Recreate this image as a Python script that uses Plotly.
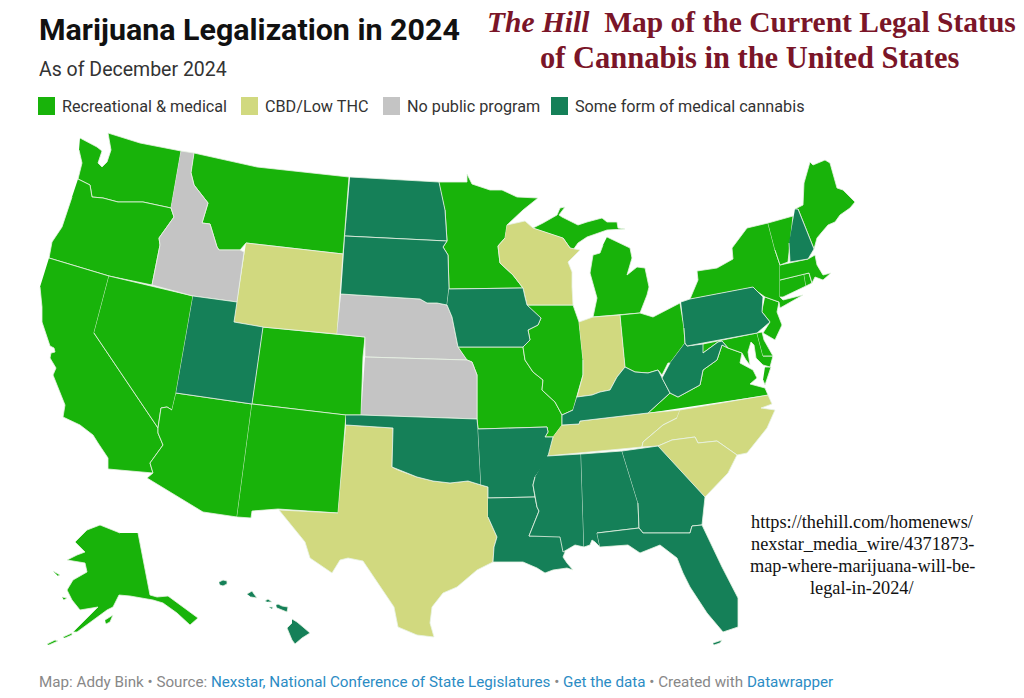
import plotly.graph_objects as go

# state outlines, in map units (None starts a new island)
WA = [(80,138),(90,143),(97,147),(102,151),(98,163),(102,167),(107,162),(111,150),(108,133),(140,143),(181,151),(171,208),(143,202),(118,202),(103,198),(92,197),(90,185),(78,179),(82,163),(79,150)]
OR = [(78,179),(90,185),(92,197),(103,198),(118,202),(143,202),(171,208),(174,217),(159,238),(160,245),(152,285),(109,276),(49,258),(52,242),(62,227),(72,197)]
CA = [(49,258),(109,276),(94,333),(158,428),(158,433),(163,445),(150,463),(153,473),(108,469),(108,458),(98,443),(93,435),(80,425),(63,417),(65,405),(55,380),(53,375),(56,368),(50,358),(51,353),(55,352),(54,348),(50,346),(42,322),(42,307),(40,287)]
NV = [(109,276),(193,296),(176,393),(172,410),(167,407),(161,408),(158,428),(94,333)]
ID = [(181,151),(194,153),(191,173),(194,185),(208,203),(202,223),(210,224),(217,247),(219,250),(240,250),(244,252),(237,302),(193,296),(152,285),(160,245),(159,238),(174,217),(171,208)]
MT = [(194,153),(257,167),(349,177),(343,254),(246,243),(242,247),(240,250),(219,250),(217,247),(210,224),(202,223),(208,203),(194,185),(191,173)]
WY = [(246,243),(343,254),(337,334),(262,327),(234,322)]
UT = [(193,296),(237,302),(234,322),(263,327),(252,404),(176,393)]
CO = [(263,327),(337,334),(365,337),(363,357),(361,415),(345,415),(252,404)]
AZ = [(176,393),(252,404),(237,517),(203,512),(147,478),(153,473),(150,463),(163,445),(158,433),(158,428),(161,408),(167,407),(172,410)]
NM = [(252,404),(346,415),(338,513),(279,509),(278,509),(252,511),(251,518),(237,517)]
ND = [(350,177),(439,182),(445,210),(447,241),(345,236)]
SD = [(345,236),(447,241),(443,247),(448,255),(449,288),(447,305),(437,303),(427,303),(420,299),(341,294)]
NE = [(341,294),(420,299),(427,303),(437,303),(447,305),(452,317),(458,347),(467,360),(365,357),(365,337),(337,334)]
KS = [(365,357),(467,360),(472,362),(477,375),(477,419),(361,415)]
OK = [(346,415),(361,415),(477,419),(478,429),(481,485),(468,481),(450,483),(433,481),(417,477),(398,470),(392,467),(393,428),(346,425)]
TX = [(346,425),(393,428),(392,467),(398,470),(417,477),(433,481),(450,483),(468,481),(481,485),(488,487),(488,517),(497,537),(494,547),(493,562),(477,570),(457,587),(443,593),(432,607),(430,623),(434,637),(417,635),(398,627),(394,607),(378,583),(363,561),(348,558),(340,560),(332,573),(310,558),(305,542),(279,510),(338,513)]
MN = [(439,182),(467,182),(467,174),(472,184),(490,190),(502,190),(517,197),(538,198),(523,210),(507,225),(505,238),(498,246),(500,263),(513,275),(523,288),(449,289),(448,255),(443,247),(447,241),(445,210)]
IA = [(449,289),(523,288),(525,297),(527,305),(541,318),(538,325),(528,330),(530,340),(523,347),(458,347),(452,317),(447,305)]
MO = [(458,347),(523,347),(525,360),(533,372),(543,380),(542,390),(555,402),(562,415),(562,425),(553,437),(545,437),(548,432),(547,427),(478,429),(477,419),(477,375),(472,362),(467,360)]
AR = [(478,429),(547,427),(548,432),(545,437),(553,437),(547,460),(535,477),(533,485),(535,497),(488,498),(488,487),(481,485)]
LA = [(488,498),(535,497),(537,507),(539,511),(529,536),(561,535),(565,552),(563,557),(567,563),(573,570),(567,568),(553,570),(545,573),(537,568),(523,562),(503,562),(493,562),(494,547),(497,537),(488,517)]
WI = [(507,225),(525,221),(533,228),(563,238),(570,248),(580,250),(568,262),(572,272),(572,287),(573,305),(527,305),(525,297),(523,288),(513,275),(500,263),(498,246),(505,238)]
IL = [(527,305),(573,305),(579,322),(583,360),(583,375),(577,397),(573,410),(562,415),(555,402),(542,390),(543,380),(533,372),(525,360),(523,347),(530,340),(528,330),(538,325),(541,318)]
IN = [(579,322),(593,317),(620,315),(625,367),(617,377),(610,390),(600,392),(592,395),(577,397),(583,375),(583,360)]
MI = [(533,228),(543,223),(557,215),(560,208),(565,207),(559,215),(562,217),(578,225),(587,222),(602,218),(607,222),(617,222),(618,228),(625,229),(607,230),(587,237),(578,243),(573,250),(570,248),(563,238),None,(607,237),(630,248),(632,258),(627,275),(637,267),(645,268),(649,287),(647,295),(640,313),(620,315),(593,317),(597,298),(590,273),(593,255),(600,253),(603,245)]
OH = [(620,315),(640,313),(653,317),(680,303),(684,328),(685,343),(670,363),(668,363),(662,375),(658,370),(648,373),(635,372),(625,367)]
KY = [(577,397),(592,395),(600,392),(610,390),(617,377),(625,367),(635,372),(648,373),(658,370),(662,378),(670,393),(648,413),(580,421),(579,424),(562,425),(562,415),(573,410)]
TN = [(562,425),(579,424),(580,421),(648,413),(680,410),(677,418),(663,425),(643,442),(642,447),(547,456),(553,437)]
MS = [(547,456),(581,454),(584,547),(575,545),(563,552),(560,537),(529,536),(539,511),(537,507),(535,497),(533,485),(535,477)]
AL = [(581,454),(622,451),(638,503),(639,528),(597,533),(600,547),(595,542),(592,540),(590,545),(584,547)]
GA = [(622,451),(658,446),(705,497),(702,525),(692,526),(690,533),(643,533),(639,528),(638,503)]
FL = [(597,533),(639,528),(643,533),(690,533),(692,526),(702,525),(722,567),(738,598),(738,627),(723,632),(707,613),(690,587),(683,573),(677,558),(660,545),(640,553),(628,545),(600,547),None,(713,643),(722,640),(720,643),(714,645)]
SC = [(658,446),(672,440),(695,437),(698,443),(717,441),(737,455),(728,473),(705,497)]
NC = [(680,410),(768,395),(772,404),(761,408),(775,410),(767,428),(747,453),(737,455),(717,441),(698,443),(695,437),(672,440),(658,446),(642,447),(643,442),(663,425),(677,418)]
VA = [(648,413),(670,393),(678,397),(700,385),(703,370),(717,360),(722,345),(728,348),(742,353),(740,363),(753,370),(757,378),(750,384),(765,388),(768,395),None,(765,367),(771,367),(765,385),(763,380)]
WV = [(685,343),(687,346),(703,344),(703,353),(718,342),(722,341),(728,348),(722,345),(717,360),(703,370),(700,385),(678,397),(670,393),(662,378),(670,363)]
MD = [(703,344),(757,333),(763,356),(773,356),(770,367),(763,365),(756,358),(754,345),(751,342),(748,352),(750,365),(746,360),(742,353),(728,348),(722,341),(718,342),(703,353)]
DE = [(757,333),(762,332),(764,340),(773,356),(763,356)]
PA = [(681,302),(690,299),(753,287),(758,292),(763,297),(762,312),(770,322),(757,333),(687,346),(685,343),(684,328)]
NJ = [(765,297),(779,302),(777,312),(782,325),(775,340),(763,333),(770,322),(762,312)]
NY = [(690,299),(698,280),(697,271),(717,268),(733,259),(732,248),(747,228),(768,223),(775,250),(780,265),(780,297),(783,300),(803,295),(780,308),(779,302),(765,297),(758,292),(753,287)]
CT = [(780,280),(804,274),(806,286),(783,297),(780,297)]
RI = [(804,274),(809,273),(812,283),(806,286)]
MA = [(780,265),(808,259),(815,255),(817,265),(823,275),(831,273),(823,280),(815,277),(812,283),(809,273),(780,280)]
VT = [(768,223),(793,216),(788,262),(780,265),(775,250)]
NH = [(795,209),(798,209),(814,249),(808,259),(790,262),(789,243)]
ME = [(795,209),(803,205),(804,183),(810,162),(813,165),(825,160),(830,163),(837,188),(843,190),(855,202),(850,208),(840,215),(835,222),(828,225),(822,232),(817,238),(814,249),(798,209)]
AK = [(138,533),(150,595),(157,597),(168,596),(198,618),(190,625),(177,613),(163,603),(153,600),(130,596),(119,595),(113,607),(107,610),(93,620),(77,632),(73,632),(90,615),(98,607),(80,610),(72,600),(67,590),(73,580),(87,572),(85,563),(67,560),(77,555),(85,552),(75,542),(87,530),(100,525),(120,533),None,(105,620),(113,615),(110,622),(106,624),None,(53,571),(60,575),(58,576),None,(62,597),(67,598),(64,600),None,(47,644),(55,640),(58,641),(49,645),None,(63,637),(72,633),(72,635),(65,638)]
HI = [(292,619),(297,622),(303,627),(310,633),(302,638),(295,644),(292,640),(287,628),(292,623),None,(276,605),(278,604),(282,606),(288,607),(287,612),(282,610),(277,608),None,(247,594),(252,591),(254,594),(257,598),(251,597),None,(219,582),(223,580),(227,581),(227,584),(223,586),(220,585),None,(265,601),(268,599),(272,602),(268,602),None,(269,607),(273,607),(272,609)]

# which group each state falls in
recreational = [WA, OR, CA, NV, MT, CO, AZ, NM, MN, MO, IL, MI, OH, VA, MD, DE, NJ, NY, CT, RI, MA, VT, ME, AK]
low_thc = [WY, TX, WI, IN, TN, NC, SC]
no_program = [ID, NE, KS]
medical = [UT, ND, SD, OK, IA, AR, LA, KY, MS, AL, GA, FL, WV, PA, NH, HI]

groups = [recreational, low_thc, no_program, medical]
names = ["Recreational & medical", "CBD/Low THC", "No public program", "Some form of medical cannabis"]
colors = ["#18b30a", "#d1d97f", "#c4c4c4", "#158058"]
url_lines = ["https://thehill.com/homenews/", "nexstar_media_wire/4371873-", "map-where-marijuana-will-be-", "legal-in-2024/"]

fig = go.Figure()

for states, name, color in zip(groups, names, colors):
    for state in states:
        x = [p[0] if p else None for p in state]
        y = [p[1] if p else None for p in state]
        fig.add_trace(go.Scatter(x=x, y=y, mode="lines", fill="toself", fillcolor=color, name=name,
                                 line=dict(color="#e8f2e4", width=0.8), showlegend=False, hoverinfo="name"))

# legend row
legend_x = [38, 241, 383, 551]
for lx, name, color in zip(legend_x, names, colors):
    fig.add_shape(type="rect", x0=lx, x1=lx + 17, y0=97, y1=115, fillcolor=color, line_width=0)
    fig.add_annotation(x=lx + 22, y=106, text=name, showarrow=False, xanchor="left",
                       font=dict(family="Roboto", size=16.2, color="#333333"))

fig.add_annotation(x=37, y=29, text="<b>Marijuana Legalization in 2024</b>", showarrow=False, xanchor="left",
                   font=dict(family="Roboto", size=30.4, color="#111111"))
fig.add_annotation(x=37, y=69, text="As of December 2024", showarrow=False, xanchor="left",
                   font=dict(family="Roboto", size=19.5, color="#333333"))
fig.add_annotation(x=751, y=22, text="<b><i>The Hill</i>  Map of the Current Legal Status</b>", showarrow=False,
                   font=dict(family="Liberation Serif", size=29.5, color="#7a1528"))
fig.add_annotation(x=750, y=58, text="<b>of Cannabis in the United States</b>", showarrow=False,
                   font=dict(family="Liberation Serif", size=30.5, color="#7a1528"))

for line, ly in zip(url_lines, [522, 544, 566, 588]):
    fig.add_annotation(x=862, y=ly, text=line, showarrow=False,
                       font=dict(family="Liberation Serif", size=18.3, color="#111111"))

link = '<span style="color:#2b8cc4">%s</span>'
footer = "Map: Addy Bink • Source: " + link % "Nexstar, National Conference of State Legislatures" + " • " + link % "Get the data" + " • Created with " + link % "Datawrapper"
fig.add_annotation(x=37, y=682, text=footer, showarrow=False, xanchor="left",
                   font=dict(family="Roboto", size=15.2, color="#888888"))

fig.update_xaxes(range=[0, 1024], visible=False, fixedrange=True)
fig.update_yaxes(range=[698, 0], visible=False, fixedrange=True)
fig.update_layout(width=1024, height=698, margin=dict(l=0, r=0, t=0, b=0), paper_bgcolor="white",
                  plot_bgcolor="white", showlegend=False)

# drop the page's body margin so the figure fills the window
fig.write_html("out.html", config={"displayModeBar": False},
               post_script="document.body.style.margin='0';document.body.style.overflow='hidden';")
